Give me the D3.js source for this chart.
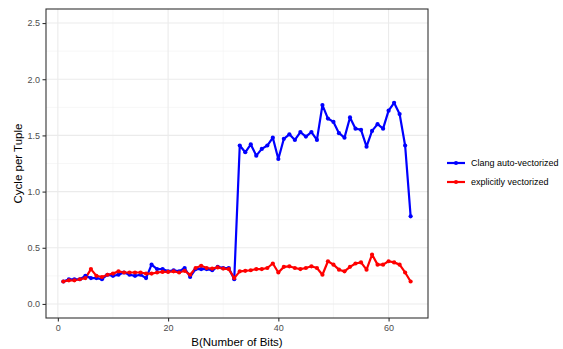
<!DOCTYPE html>
<html>
<head>
<meta charset="utf-8">
<script src="https://cdn.jsdelivr.net/npm/d3@7"></script>
<style>
  body { margin: 0; background: #fff; }
  text { font-family: "Liberation Sans", Arial, sans-serif; }
</style>
</head>
<body>
<div id="chart"></div>
<script>
// bits 1..64
const bits = d3.range(1, 65);

const clangValues = [
  0.20, 0.22, 0.22, 0.22, 0.25, 0.23, 0.23, 0.22, 0.26, 0.25,
  0.26, 0.28, 0.26, 0.25, 0.26, 0.23, 0.35, 0.31, 0.31, 0.29,
  0.30, 0.29, 0.32, 0.24, 0.31, 0.31, 0.31, 0.30, 0.33, 0.32,
  0.32, 0.22, 1.41, 1.35, 1.42, 1.32, 1.38, 1.41, 1.48, 1.29,
  1.47, 1.51, 1.46, 1.53, 1.49, 1.53, 1.46, 1.77, 1.65, 1.62,
  1.52, 1.48, 1.66, 1.56, 1.55, 1.40, 1.54, 1.60, 1.56, 1.72,
  1.79, 1.69, 1.41, 0.78
];

const explicitValues = [
  0.20, 0.21, 0.21, 0.22, 0.23, 0.31, 0.25, 0.24, 0.26, 0.27,
  0.29, 0.28, 0.28, 0.28, 0.28, 0.27, 0.27, 0.28, 0.285, 0.285,
  0.29, 0.28, 0.295, 0.26, 0.32, 0.34, 0.32, 0.315, 0.325, 0.315,
  0.31, 0.23, 0.29, 0.295, 0.30, 0.31, 0.31, 0.32, 0.36, 0.28,
  0.33, 0.335, 0.32, 0.31, 0.32, 0.335, 0.32, 0.26, 0.38, 0.35,
  0.305, 0.29, 0.33, 0.36, 0.37, 0.305, 0.44, 0.35, 0.35, 0.38,
  0.37, 0.35, 0.28, 0.20
];

const seriesNames = ['Clang auto-vectorized', 'explicitly vectorized'];
const seriesColors = ['#0000ff', '#ff0000'];
const xTicks = [0, 20, 40, 60];
const xMinor = [10, 30, 50];
const yTicks = [0, 0.5, 1.0, 1.5, 2.0, 2.5];
const yMinor = [0.25, 0.75, 1.25, 1.75, 2.25];

const series = [clangValues, explicitValues].map((vals, i) => ({
  name: seriesNames[i],
  color: seriesColors[i],
  points: bits.map((b, j) => ({ b, v: vals[j] }))
}));

const width = 563, height = 349;
const panel = { left: 46, top: 9, right: 428, bottom: 318 };

const x = d3.scaleLinear().domain([-2.15, 67.15]).range([panel.left, panel.right]);
const y = d3.scaleLinear().domain([-0.125, 2.625]).range([panel.bottom, panel.top]);

const svg = d3.select('#chart').append('svg')
  .attr('width', width)
  .attr('height', height);

// -- grid
const grid = svg.append('g');
grid.selectAll('line.xminor').data(xMinor).join('line')
  .attr('x1', d => x(d)).attr('x2', d => x(d))
  .attr('y1', panel.top).attr('y2', panel.bottom)
  .attr('stroke', '#f2f2f2').attr('stroke-width', 0.6);
grid.selectAll('line.yminor').data(yMinor).join('line')
  .attr('y1', d => y(d)).attr('y2', d => y(d))
  .attr('x1', panel.left).attr('x2', panel.right)
  .attr('stroke', '#f2f2f2').attr('stroke-width', 0.6);
grid.selectAll('line.xmajor').data(xTicks).join('line')
  .attr('x1', d => x(d)).attr('x2', d => x(d))
  .attr('y1', panel.top).attr('y2', panel.bottom)
  .attr('stroke', '#ebebeb').attr('stroke-width', 1.1);
grid.selectAll('line.ymajor').data(yTicks).join('line')
  .attr('y1', d => y(d)).attr('y2', d => y(d))
  .attr('x1', panel.left).attr('x2', panel.right)
  .attr('stroke', '#ebebeb').attr('stroke-width', 1.1);

// -- series
const line = d3.line().x(d => x(d.b)).y(d => y(d.v));
series.forEach(s => {
  svg.append('path')
    .datum(s.points)
    .attr('fill', 'none')
    .attr('stroke', s.color)
    .attr('stroke-width', 2.2)
    .attr('stroke-linejoin', 'round')
    .attr('d', line);
});
series.forEach(s => {
  svg.append('g').selectAll('circle')
    .data(s.points)
    .join('circle')
    .attr('cx', d => x(d.b))
    .attr('cy', d => y(d.v))
    .attr('r', 2.1)
    .attr('fill', s.color);
});

// -- panel border
svg.append('rect')
  .attr('x', panel.left).attr('y', panel.top)
  .attr('width', panel.right - panel.left)
  .attr('height', panel.bottom - panel.top)
  .attr('fill', 'none')
  .attr('stroke', '#333333')
  .attr('stroke-width', 1.1);

// -- axes
const xAxis = svg.append('g')
  .attr('transform', `translate(0,${panel.bottom})`)
  .call(d3.axisBottom(x).tickValues(xTicks).tickSize(3.5).tickPadding(3).tickFormat(d3.format('d')));
const yAxis = svg.append('g')
  .attr('transform', `translate(${panel.left},0)`)
  .call(d3.axisLeft(y).tickValues(yTicks).tickSize(3.5).tickPadding(2.5).tickFormat(d3.format('.1f')));
[xAxis, yAxis].forEach(a => {
  a.select('.domain').remove();
  a.selectAll('.tick line').attr('stroke', '#333333').attr('stroke-width', 1.1);
  a.selectAll('.tick text')
    .attr('fill', '#4d4d4d')
    .style('font-size', '9px')
    .style('font-family', '"Liberation Sans", Arial, sans-serif');
});

// -- axis titles
svg.append('text')
  .attr('x', (panel.left + panel.right) / 2)
  .attr('y', 346)
  .attr('text-anchor', 'middle')
  .style('font-size', '11.5px')
  .text('B(Number of Bits)');
svg.append('text')
  .attr('transform', `translate(22,${(panel.top + panel.bottom) / 2}) rotate(-90)`)
  .attr('text-anchor', 'middle')
  .style('font-size', '11.5px')
  .text('Cycle per Tuple');

// -- legend
const legend = svg.append('g')
  .attr('transform', 'translate(447,163)')
  .selectAll('g')
  .data(series)
  .join('g')
  .attr('transform', (d, i) => `translate(0,${i * 19})`);
legend.append('line')
  .attr('x1', 0).attr('x2', 18)
  .attr('stroke', d => d.color)
  .attr('stroke-width', 2.2);
legend.append('circle')
  .attr('cx', 9).attr('r', 2.1)
  .attr('fill', d => d.color);
legend.append('text')
  .attr('x', 24)
  .attr('dy', '0.35em')
  .style('font-size', '9px')
  .text(d => d.name);
</script>
</body>
</html>
